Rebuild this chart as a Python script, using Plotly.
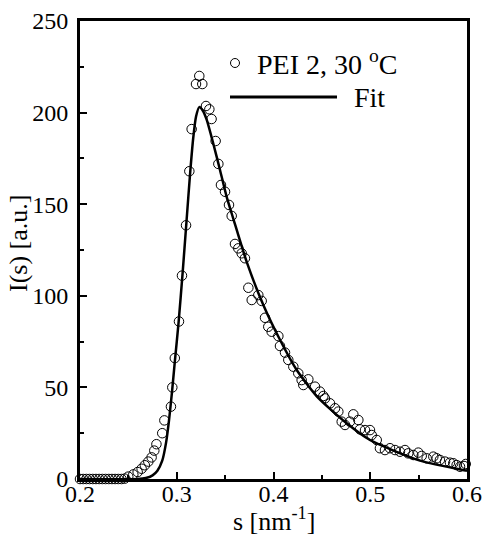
import plotly.graph_objects as go

# Measured scattering data (PEI 2, 30 oC)
s_data = [0.2000, 0.2033, 0.2066, 0.2099, 0.2132, 0.2165, 0.2198, 0.2231, 0.2264, 0.2297,
          0.2330, 0.2363, 0.2396, 0.2429, 0.2462, 0.2499, 0.2551, 0.2596, 0.2637, 0.2670,
          0.2706, 0.2740, 0.2768, 0.2790, 0.2850, 0.2872, 0.2940, 0.2954, 0.2980, 0.3023,
          0.3054, 0.3096, 0.3130, 0.3154, 0.3199, 0.3233, 0.3264, 0.3302, 0.3337, 0.3360,
          0.3402, 0.3430, 0.3457, 0.3499, 0.3540, 0.3568, 0.3602, 0.3636, 0.3671, 0.3705,
          0.3740, 0.3775, 0.3843, 0.3878, 0.3912, 0.3946, 0.3981, 0.4050, 0.4067, 0.4119,
          0.4153, 0.4205, 0.4256, 0.4291, 0.4308, 0.4360, 0.4429, 0.4480, 0.4515, 0.4532,
          0.4584, 0.4636, 0.4670, 0.4705, 0.4739, 0.4790, 0.4825, 0.4877, 0.4894, 0.4946,
          0.4997, 0.5015, 0.5067, 0.5100, 0.5152, 0.5204, 0.5256, 0.5307, 0.5359, 0.5393,
          0.5445, 0.5497, 0.5532, 0.5583, 0.5652, 0.5687, 0.5720, 0.5773, 0.5824, 0.5858,
          0.5893, 0.5928, 0.5969, 0.5987]
I_data = [0.0, 0.0, 0.0, 0.0, 0.0, 0.0, 0.0, 0.0, 0.0, 0.0,
          0.0, 0.0, 0.0, 0.0, 0.2, 1.3, 2.5, 3.8, 5.6, 7.5,
          9.5, 11.8, 15.5, 19.0, 25.0, 32.0, 39.5, 50.0, 66.0, 86.0,
          111.0, 138.5, 168.0, 191.0, 215.6, 220.0, 215.6, 203.6, 201.8, 196.5,
          184.5, 172.0, 160.5, 156.8, 149.6, 143.6, 128.3, 125.9, 123.2, 120.5,
          104.4, 97.7, 100.4, 97.2, 88.0, 83.1, 80.4, 78.0, 72.6, 69.0,
          65.0, 61.3, 57.7, 54.0, 51.3, 54.4, 50.4, 47.7, 45.3, 44.0,
          41.3, 38.6, 36.8, 31.3, 29.5, 31.3, 35.3, 32.2, 27.1, 26.7,
          26.7, 24.0, 21.3, 16.8, 15.8, 16.8, 15.8, 14.9, 15.8, 14.0,
          13.1, 14.4, 12.6, 11.3, 12.2, 11.3, 10.4, 9.5, 8.9, 8.6,
          7.6, 6.7, 7.1, 8.2]

# Fit curve
s_fit = [0.200, 0.260, 0.268, 0.275, 0.280, 0.285, 0.289, 0.292, 0.295, 0.298,
         0.302, 0.306, 0.310, 0.314, 0.317, 0.320, 0.3233, 0.327, 0.331, 0.3378,
         0.3447, 0.3516, 0.3585, 0.3723, 0.3895, 0.4067, 0.424, 0.445, 0.4757,
         0.4997, 0.5514, 0.600]
I_fit = [0.0, 0.0, 0.5, 2.0, 4.5, 10.0, 20.0, 32.0, 47.0, 64.0,
         86.0, 112.0, 140.0, 168.0, 186.0, 198.0, 203.0, 201.0, 196.0, 183.0,
         168.7, 154.0, 142.0, 118.5, 95.0, 76.0, 59.5, 45.0, 30.4,
         21.3, 10.0, 4.5]

x_ticks = [0.2, 0.3, 0.4, 0.5, 0.6]
y_ticks = [0, 50, 100, 150, 200, 250]

FONT = "Liberation Serif"

fig = go.Figure()
fig.add_trace(go.Scatter(x=s_fit, y=I_fit, mode="lines",
                         line=dict(color="black", width=2.5, shape="spline", smoothing=0.6),
                         name="Fit", showlegend=False))
fig.add_trace(go.Scatter(x=s_data, y=I_data, mode="markers",
                         marker=dict(symbol="circle-open", size=9.5, color="black",
                                     line=dict(width=1, color="black")),
                         name="PEI 2, 30 oC", showlegend=False, cliponaxis=False))

axis_common = dict(showgrid=False, zeroline=False, showline=True, linecolor="black",
                   linewidth=3, mirror=True, ticks="inside", ticklen=7, tickwidth=1.5,
                   tickcolor="black", automargin=False,
                   tickfont=dict(family=FONT, size=24, color="black"))

fig.update_xaxes(range=[0.2, 0.6], tickvals=x_ticks, ticktext=[str(v) for v in x_ticks],
                 ticklabelstandoff=-9,
                 minor=dict(ticks="inside", ticklen=4, tickwidth=1.5, dtick=0.05,
                            tick0=0.2, tickcolor="black"),
                 **axis_common)
fig.update_yaxes(range=[0, 250], tickvals=y_ticks, ticktext=[str(v) for v in y_ticks],
                 ticklabelstandoff=4,
                 minor=dict(ticks="inside", ticklen=4, tickwidth=1.5, dtick=25,
                            tick0=0, tickcolor="black"),
                 **axis_common)

# Legend drawn manually
fig.add_shape(type="circle", xref="paper", yref="paper",
              x0=(235 - 4.5 - 80) / 387, x1=(235 + 4.5 - 80) / 387,
              y0=(479 - 63 - 4.5) / 458, y1=(479 - 63 + 4.5) / 458,
              line=dict(color="black", width=1))
fig.add_annotation(xref="paper", yref="paper", x=(255 - 80) / 387, y=(479 - 62) / 458,
                   xanchor="left", yanchor="middle", showarrow=False,
                   text="PEI 2, 30 <sup>o</sup>C",
                   font=dict(family=FONT, size=28, color="black"))
fig.add_shape(type="line", xref="paper", yref="paper",
              x0=(230 - 80) / 387, x1=(337 - 80) / 387,
              y0=(479 - 97) / 458, y1=(479 - 97) / 458,
              line=dict(color="black", width=3))
fig.add_annotation(xref="paper", yref="paper", x=(352 - 80) / 387, y=(479 - 97) / 458,
                   xanchor="left", yanchor="middle", showarrow=False, text="Fit",
                   font=dict(family=FONT, size=28, color="black"))

# Axis titles
fig.add_annotation(xref="paper", yref="paper", x=0.5, y=(479 - 519) / 458,
                   xanchor="center", yanchor="middle", showarrow=False,
                   text="s [nm<sup>-1</sup>]",
                   font=dict(family=FONT, size=26, color="black"))
fig.add_annotation(xref="paper", yref="paper", x=(18 - 80) / 387, y=(479 - 244) / 458,
                   xanchor="center", yanchor="middle", showarrow=False, textangle=-90,
                   text="I(s) [a.u.]",
                   font=dict(family=FONT, size=26, color="black"))

fig.update_layout(width=485, height=539, margin=dict(l=80, r=18, t=21, b=60, autoexpand=False),
                  plot_bgcolor="white", paper_bgcolor="white", showlegend=False,
                  font=dict(family=FONT, color="black"))

fig.write_html("out.html", config={"displayModeBar": False},
               post_script="document.body.style.margin='0';document.body.style.overflow='hidden';")
